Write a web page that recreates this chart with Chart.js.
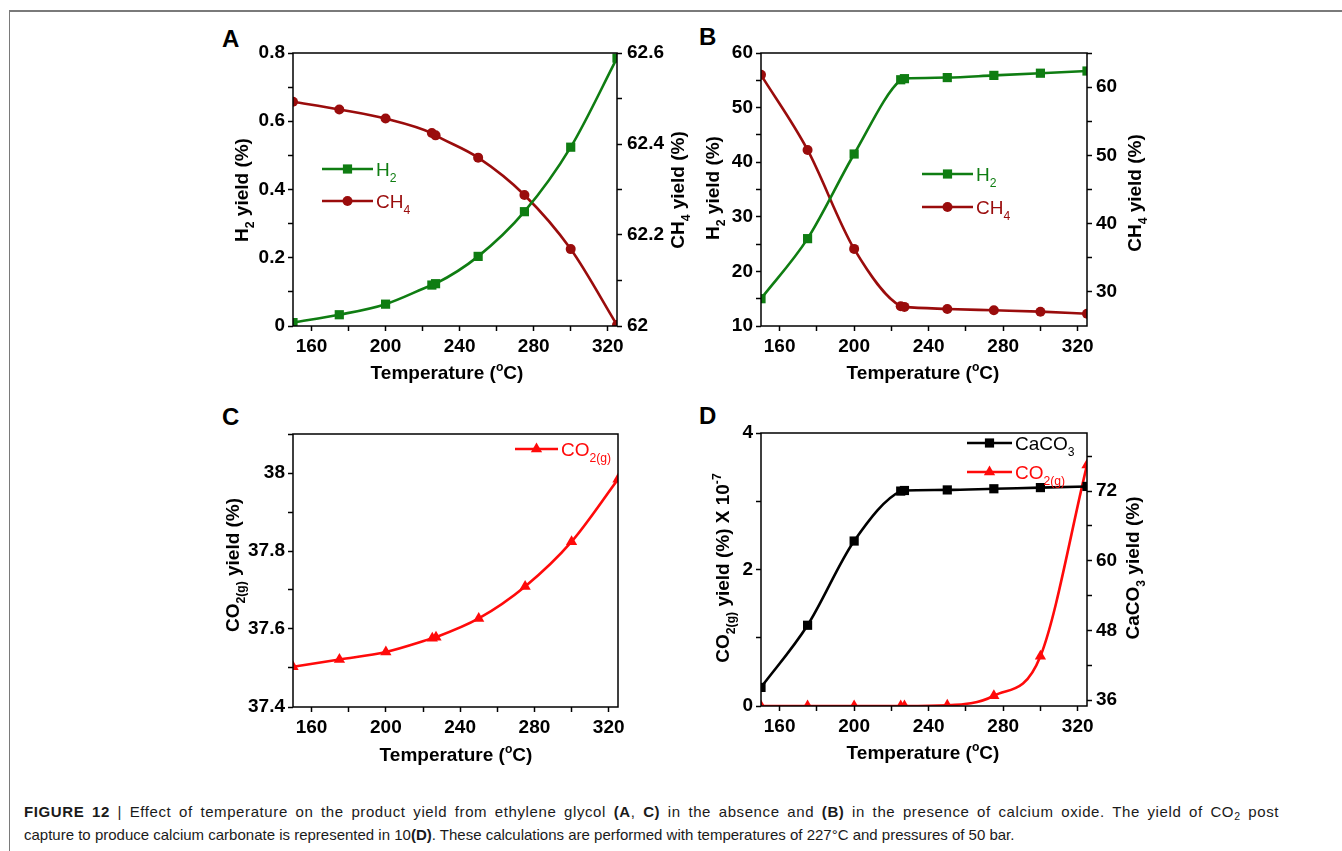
<!DOCTYPE html>
<html>
<head>
<meta charset="utf-8">
<script src="https://cdn.jsdelivr.net/npm/chart.js@4.4.1/dist/chart.umd.min.js"></script>
<style>
  body { margin: 0; background: #fff; font-family: "Liberation Sans", Arial, sans-serif; }
  #page { position: relative; width: 1342px; height: 851px; overflow: hidden; }
  .frame { position: absolute; left: 9px; top: 10px; right: -5px; bottom: -5px; border-top: 2px solid #7a7a7a; border-left: 1.5px solid #7a7a7a; }
  canvas { position: absolute; }
  .letter { position: absolute; font: bold 24px "Liberation Sans", Arial, sans-serif; line-height: 24px; }
  .caption { position: absolute; left: 24px; top: 800px; width: 1255px; font-size: 15px; line-height: 23px; color: #1a1a1a; }
  .caption .l1 { text-align: justify; text-align-last: justify; white-space: nowrap; letter-spacing: 0.6px; }
  .caption .l2 { white-space: nowrap; }
  .caption sub { font-size: 0.7em; line-height: 0; vertical-align: -0.25em; }
</style>
</head>
<body>
<div id="page">
  <div class="frame"></div>
  <div class="letter" style="left:222px;top:27px">A</div>
  <div class="letter" style="left:699px;top:25px">B</div>
  <div class="letter" style="left:222px;top:405px">C</div>
  <div class="letter" style="left:699px;top:404px">D</div>
  <canvas id="chartA" width="480" height="370" style="left:210px;top:20px"></canvas>
  <canvas id="chartB" width="470" height="370" style="left:690px;top:20px"></canvas>
  <canvas id="chartC" width="460" height="370" style="left:210px;top:400px"></canvas>
  <canvas id="chartD" width="470" height="370" style="left:690px;top:400px"></canvas>
  <div class="caption">
    <div class="l1"><b>FIGURE 12</b> | Effect of temperature on the product yield from ethylene glycol <b>(A</b>, <b>C)</b> in the absence and <b>(B)</b> in the presence of calcium oxide. The yield of CO<sub>2</sub> post</div>
    <div class="l2">capture to produce calcium carbonate is represented in 10<b>(D)</b>. These calculations are performed with temperatures of 227°C and pressures of 50 bar.</div>
  </div>
</div>
<script>
// Temperatures (°C) shared by every panel
const temps = [150, 175, 200, 225, 227, 250, 275, 300, 325];

// A: without CaO
const h2NoCaO = [0.010, 0.033, 0.064, 0.120, 0.124, 0.204, 0.335, 0.524, 0.785];
const ch4NoCaO = [62.493, 62.476, 62.456, 62.424, 62.419, 62.370, 62.288, 62.169, 62.002];
// B: with CaO
const h2CaO = [15.0, 26.0, 41.5, 55.1, 55.3, 55.5, 55.9, 56.3, 56.7];
const ch4CaO = [61.8, 50.8, 36.3, 27.9, 27.8, 27.5, 27.3, 27.1, 26.8];
// C: CO2(g) without CaO
const co2NoCaO = [37.503, 37.522, 37.541, 37.576, 37.579, 37.627, 37.709, 37.824, 37.984];
// D: CaCO3 and CO2(g) (x 10^-7) with CaO
const caco3 = [38.2, 48.9, 63.4, 72.0, 72.1, 72.2, 72.4, 72.6, 72.8];
const co2CaO = [0, 0, 0, 0, 0, 0.01, 0.15, 0.73, 3.53];

// tick positions and labelled ticks
const tempTicks = [160, 180, 200, 220, 240, 260, 280, 300, 320];
const tempLabels = [160, 200, 240, 280, 320];
const aLeftTicks = [0, 0.1, 0.2, 0.3, 0.4, 0.5, 0.6, 0.7, 0.8];
const aLeftLabels = [0, 0.2, 0.4, 0.6, 0.8];
const aRightTicks = [62, 62.1, 62.2, 62.3, 62.4, 62.5, 62.6];
const aRightLabels = [62, 62.2, 62.4, 62.6];
const bLeftTicks = [10, 15, 20, 25, 30, 35, 40, 45, 50, 55, 60];
const bLeftLabels = [10, 20, 30, 40, 50, 60];
const bRightTicks = [30, 35, 40, 45, 50, 55, 60, 65];
const bRightLabels = [30, 40, 50, 60];
const cLeftTicks = [37.4, 37.5, 37.6, 37.7, 37.8, 37.9, 38, 38.1];
const cLeftLabels = [37.4, 37.6, 37.8, 38];
const dLeftTicks = [0, 1, 2, 3, 4];
const dLeftLabels = [0, 2, 4];
const dRightTicks = [36, 42, 48, 54, 60, 66, 72, 78];
const dRightLabels = [36, 48, 60, 72];

const FONT = '"Liberation Sans", Arial, sans-serif';
const GREEN = '#0f7d12';
const DARKRED = '#9a0c0c';
const RED = '#ff0a0a';

function pts(values) {
    return temps.map((t, i) => ({ x: t, y: values[i] }));
}

function fmtTick(majors) {
    return function (value) {
        const hit = majors.find(m => Math.abs(m - value) < 1e-6);
        return hit === undefined ? '' : String(hit);
    };
}

function axis(position, min, max, ticks, labels, size, pad) {
    const horizontal = position === 'bottom';
    return {
        type: 'linear', position: position, min: min, max: max,
        grid: { drawOnChartArea: false, drawTicks: true, tickLength: 5, tickWidth: 1.5, tickColor: '#000' },
        border: { display: false },
        ticks: {
            color: '#000', padding: pad, autoSkip: false, maxRotation: 0,
            font: { family: FONT, size: 19, weight: 'bold' },
            callback: fmtTick(labels)
        },
        afterBuildTicks: s => { s.ticks = ticks.map(v => ({ value: v })); },
        afterFit: s => { if (horizontal) s.height = size; else s.width = size; }
    };
}

function series(label, values, color, style, radius, yAxisID) {
    return {
        label: label, data: pts(values), yAxisID: yAxisID,
        borderColor: color, backgroundColor: color, borderWidth: 2.6,
        pointStyle: style, pointRadius: radius, pointBorderWidth: 0,
        cubicInterpolationMode: 'monotone'
    };
}

function drawRich(ctx, parts, x, y, opt) {
    const size = opt.size;
    const small = size * 0.64;
    const weight = opt.weight || 'normal';
    ctx.save();
    ctx.translate(x, y);
    if (opt.rotate) ctx.rotate(opt.rotate);
    ctx.fillStyle = opt.color || '#000';
    ctx.textAlign = 'left';
    ctx.textBaseline = 'alphabetic';
    const widths = parts.map(p => {
        ctx.font = weight + ' ' + (p[1] ? small : size) + 'px ' + FONT;
        return ctx.measureText(p[0]).width;
    });
    const total = widths.reduce((a, b) => a + b, 0);
    let cx = opt.align === 'left' ? 0 : -total / 2;
    const base = size * 0.36;
    parts.forEach((p, i) => {
        ctx.font = weight + ' ' + (p[1] ? small : size) + 'px ' + FONT;
        let dy = 0;
        if (p[1] === 'sub') dy = size * 0.3;
        if (p[1] === 'sup') dy = -size * 0.42;
        ctx.fillText(p[0], cx, base + dy);
        cx += widths[i];
    });
    ctx.restore();
}

function drawMarker(ctx, style, x, y, r, color) {
    ctx.save();
    ctx.fillStyle = color;
    ctx.beginPath();
    if (style === 'rect') {
        const s = r * Math.SQRT1_2;
        ctx.rect(x - s, y - s, 2 * s, 2 * s);
    } else if (style === 'triangle') {
        let a = 0;
        ctx.moveTo(x + Math.sin(a) * r, y - Math.cos(a) * r);
        a += 2 * Math.PI / 3;
        ctx.lineTo(x + Math.sin(a) * r, y - Math.cos(a) * r);
        a += 2 * Math.PI / 3;
        ctx.lineTo(x + Math.sin(a) * r, y - Math.cos(a) * r);
        ctx.closePath();
    } else {
        ctx.arc(x, y, r, 0, 2 * Math.PI);
    }
    ctx.fill();
    ctx.restore();
}

// frame round the plot, axis titles and in-plot legend (page coordinates)
function decor(box, titles, legend) {
    return {
        id: 'decor',
        afterDraw(chart) {
            const ctx = chart.ctx;
            const a = chart.chartArea;
            ctx.save();
            ctx.strokeStyle = '#000';
            ctx.lineWidth = 1.5;
            ctx.strokeRect(a.left, a.top, a.right - a.left, a.bottom - a.top);
            ctx.restore();
            titles.forEach(t => {
                drawRich(ctx, t.parts, t.x - box.left, t.y - box.top,
                    { size: 19, weight: 'bold', rotate: t.rot ? -Math.PI / 2 : 0 });
            });
            legend.forEach(l => {
                const ds = chart.data.datasets[l.ds];
                const y = l.y - box.top;
                const x0 = l.x0 - box.left, x1 = l.x1 - box.left;
                ctx.save();
                ctx.strokeStyle = ds.borderColor;
                ctx.lineWidth = ds.borderWidth;
                ctx.beginPath();
                ctx.moveTo(x0, y);
                ctx.lineTo(x1, y);
                ctx.stroke();
                ctx.restore();
                drawMarker(ctx, ds.pointStyle, (x0 + x1) / 2, y, ds.pointRadius, ds.borderColor);
                drawRich(ctx, l.parts, x1 + 3, y, { size: 19, color: l.color || ds.borderColor, align: 'left' });
            });
        }
    };
}

function makePanel(id, box, plot, datasets, scales, titles, legend) {
    new Chart(document.getElementById(id), {
        type: 'line',
        data: { datasets: datasets },
        options: {
            responsive: false,
            animation: false,
            events: [],
            layout: { padding: { top: plot.top - box.top, left: 0, bottom: 0, right: scales.y2 ? 0 : box.left + box.width - plot.right } },
            plugins: { legend: { display: false }, tooltip: { enabled: false } },
            scales: scales
        },
        plugins: [decor(box, titles, legend)]
    });
}

const xTitle = [['Temperature ('], ['o', 'sup'], ['C)']];

// Panel A
(function () {
    const box = { left: 210, top: 20, width: 480, height: 370 };
    const plot = { left: 293, top: 53, right: 617, bottom: 326 };
    makePanel('chartA', box, plot, [
        series('H2', h2NoCaO, GREEN, 'rect', 6.5, 'y'),
        series('CH4', ch4NoCaO, DARKRED, 'circle', 5, 'y2')
    ], {
        x: axis('bottom', 150, 325, tempTicks, tempLabels, box.top + box.height - plot.bottom, 4),
        y: axis('left', 0, 0.8, aLeftTicks, aLeftLabels, plot.left - box.left, 3),
        y2: axis('right', 62, 62.6, aRightTicks, aRightLabels, box.left + box.width - plot.right, 5)
    }, [
        { parts: xTitle, x: 447, y: 372 },
        { parts: [['H'], ['2', 'sub'], [' yield (%)']], x: 241, y: 190, rot: true },
        { parts: [['CH'], ['4', 'sub'], [' yield (%)']], x: 677, y: 190, rot: true }
    ], [
        { ds: 0, x0: 322, x1: 373, y: 169, parts: [['H'], ['2', 'sub']] },
        { ds: 1, x0: 322, x1: 373, y: 201, parts: [['CH'], ['4', 'sub']] }
    ]);
})();

// Panel B
(function () {
    const box = { left: 690, top: 20, width: 470, height: 370 };
    const plot = { left: 761, top: 53, right: 1087, bottom: 326 };
    makePanel('chartB', box, plot, [
        series('H2', h2CaO, GREEN, 'rect', 6.5, 'y'),
        series('CH4', ch4CaO, DARKRED, 'circle', 5, 'y2')
    ], {
        x: axis('bottom', 150, 325, tempTicks, tempLabels, box.top + box.height - plot.bottom, 4),
        y: axis('left', 10, 60, bLeftTicks, bLeftLabels, plot.left - box.left, 3),
        y2: axis('right', 25, 65, bRightTicks, bRightLabels, box.left + box.width - plot.right, 4)
    }, [
        { parts: xTitle, x: 923, y: 372 },
        { parts: [['H'], ['2', 'sub'], [' yield (%)']], x: 712, y: 188, rot: true },
        { parts: [['CH'], ['4', 'sub'], [' yield (%)']], x: 1134, y: 193, rot: true }
    ], [
        { ds: 0, x0: 922, x1: 973, y: 174, parts: [['H'], ['2', 'sub']] },
        { ds: 1, x0: 922, x1: 973, y: 207, parts: [['CH'], ['4', 'sub']] }
    ]);
})();

// Panel C
(function () {
    const box = { left: 210, top: 400, width: 460, height: 370 };
    const plot = { left: 293, top: 434, right: 618, bottom: 707 };
    makePanel('chartC', box, plot, [
        series('CO2(g)', co2NoCaO, RED, 'triangle', 6.5, 'y')
    ], {
        x: axis('bottom', 150, 325, tempTicks, tempLabels, box.top + box.height - plot.bottom, 4),
        y: axis('left', 37.4, 38.1, cLeftTicks, cLeftLabels, plot.left - box.left, 3)
    }, [
        { parts: xTitle, x: 456, y: 754 },
        { parts: [['CO'], ['2(g)', 'sub'], [' yield (%)']], x: 232, y: 565, rot: true }
    ], [
        { ds: 0, x0: 515, x1: 558, y: 449, parts: [['CO'], ['2(g)', 'sub']] }
    ]);
})();

// Panel D
(function () {
    const box = { left: 690, top: 400, width: 470, height: 370 };
    const plot = { left: 761, top: 433, right: 1087, bottom: 706 };
    makePanel('chartD', box, plot, [
        series('CaCO3', caco3, '#000', 'rect', 6.5, 'y2'),
        series('CO2(g)', co2CaO, RED, 'triangle', 6.5, 'y')
    ], {
        x: axis('bottom', 150, 325, tempTicks, tempLabels, box.top + box.height - plot.bottom, 4),
        y: axis('left', 0, 4, dLeftTicks, dLeftLabels, plot.left - box.left, 3),
        y2: axis('right', 35, 82, dRightTicks, dRightLabels, box.left + box.width - plot.right, 4)
    }, [
        { parts: xTitle, x: 923, y: 752 },
        { parts: [['CO'], ['2(g)', 'sub'], [' yield (%) X 10'], ['-7', 'sup']], x: 722, y: 568, rot: true },
        { parts: [['CaCO'], ['3', 'sub'], [' yield (%)']], x: 1132, y: 568, rot: true }
    ], [
        { ds: 0, x0: 967, x1: 1012, y: 443, parts: [['CaCO'], ['3', 'sub']] },
        { ds: 1, x0: 967, x1: 1012, y: 472, parts: [['CO'], ['2(g)', 'sub']] }
    ]);
})();
</script>
</body>
</html>
